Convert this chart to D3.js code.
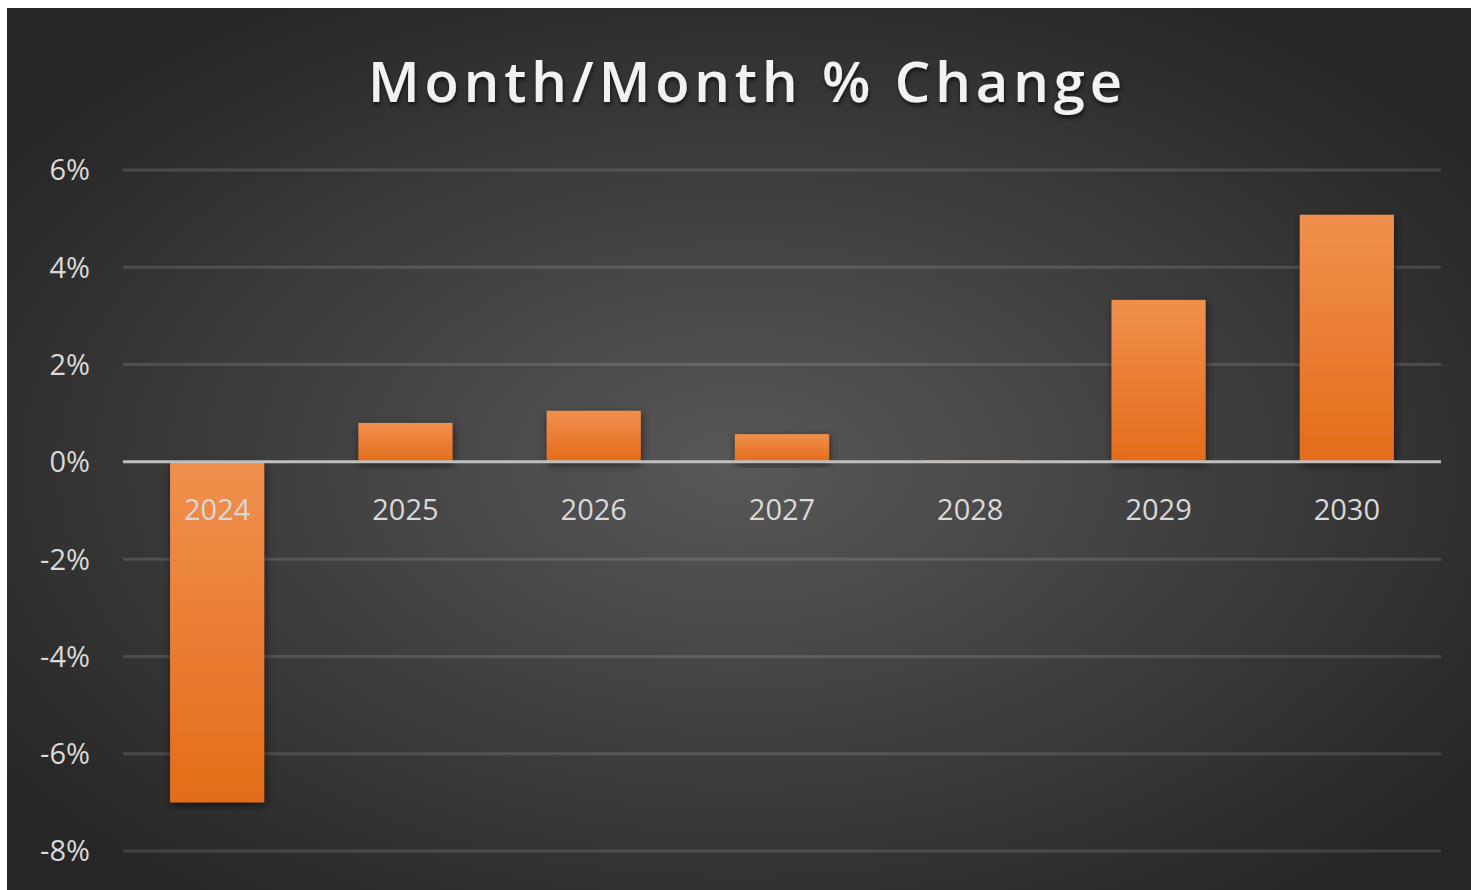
<!DOCTYPE html>
<html>
<head>
<meta charset="utf-8">
<script src="https://cdn.jsdelivr.net/npm/d3@7"></script>
<style>
  html, body { margin: 0; padding: 0; background: #fff; }
  svg { display: block; }
</style>
</head>
<body>
<svg id="chart"></svg>
<script>
const years = ["2024", "2025", "2026", "2027", "2028", "2029", "2030"];
const changes = [-7.0, 0.8, 1.05, 0.57, 0.03, 3.33, 5.08];
const yTicks = [6, 4, 2, 0, -2, -4, -6, -8];
const title = "Month/Month % Change";

const W = 1471, H = 890;
const svg = d3.select("#chart").attr("width", W).attr("height", H);
const defs = svg.append("defs");

const bg = defs.append("radialGradient")
    .attr("id", "bg")
    .attr("cx", "50%").attr("cy", "52%").attr("r", "62%");
bg.append("stop").attr("offset", "0%").attr("stop-color", "#585858");
bg.append("stop").attr("offset", "100%").attr("stop-color", "#262626");

const barGrad = defs.append("linearGradient")
    .attr("id", "bar")
    .attr("x1", 0).attr("y1", 0).attr("x2", 0).attr("y2", 1);
barGrad.append("stop").attr("offset", "0%").attr("stop-color", "#f0904e");
barGrad.append("stop").attr("offset", "100%").attr("stop-color", "#e46c1a");

const shadow = defs.append("filter").attr("id", "shadow")
    .attr("x", "-20%").attr("y", "-20%").attr("width", "140%").attr("height", "140%");
shadow.append("feDropShadow")
    .attr("dx", 1).attr("dy", 3).attr("stdDeviation", 4)
    .attr("flood-color", "#000").attr("flood-opacity", 0.55);

const titleShadow = defs.append("filter").attr("id", "tshadow")
    .attr("x", "-10%").attr("y", "-30%").attr("width", "120%").attr("height", "160%");
titleShadow.append("feDropShadow")
    .attr("dx", 1).attr("dy", 3).attr("stdDeviation", 2)
    .attr("flood-color", "#000").attr("flood-opacity", 0.6);

svg.append("rect")
    .attr("x", 7).attr("y", 8)
    .attr("width", W - 7).attr("height", H - 8)
    .attr("fill", "url(#bg)");

const left = 123, right = 1441;

const x = d3.scaleBand()
    .domain(years)
    .range([left, right])
    .paddingInner(0.5)
    .paddingOuter(0.25);

const y = d3.scaleLinear()
    .domain([-8, 6])
    .range([851, 170]);

// gridlines
svg.append("g")
  .selectAll("line")
  .data(yTicks.filter(d => d !== 0))
  .join("line")
    .attr("x1", left).attr("x2", right)
    .attr("y1", d => y(d)).attr("y2", d => y(d))
    .attr("stroke", "rgba(255,255,255,0.13)")
    .attr("stroke-width", 3);

// y labels
svg.append("g")
  .selectAll("text")
  .data(yTicks)
  .join("text")
    .attr("x", 90)
    .attr("y", d => y(d))
    .attr("dy", "0.36em")
    .attr("text-anchor", "end")
    .attr("fill", "#d9d9d9")
    .style("font-family", "'Open Sans', sans-serif")
    .style("font-size", "29px")
    .text(d => d + "%");

// bars
svg.append("g")
  .selectAll("rect")
  .data(changes)
  .join("rect")
    .attr("x", (d, i) => x(years[i]))
    .attr("width", x.bandwidth())
    .attr("y", d => y(Math.max(0, d)))
    .attr("height", d => Math.max(1, Math.abs(y(d) - y(0))))
    .attr("fill", "url(#bar)")
    .attr("filter", "url(#shadow)");

// zero line
svg.append("line")
    .attr("x1", left).attr("x2", right)
    .attr("y1", y(0)).attr("y2", y(0))
    .attr("stroke", "#bfbfbf")
    .attr("stroke-width", 3);

// category labels
svg.append("g")
  .selectAll("text")
  .data(years)
  .join("text")
    .attr("x", d => x(d) + x.bandwidth() / 2)
    .attr("y", y(0) + 48)
    .attr("dy", "0.36em")
    .attr("text-anchor", "middle")
    .attr("fill", "#d9d9d9")
    .style("font-family", "'Open Sans', sans-serif")
    .style("font-size", "29px")
    .text(d => d);

// title
svg.append("text")
    .attr("x", 745)
    .attr("y", 102)
    .attr("text-anchor", "middle")
    .attr("fill", "#f2f2f2")
    .attr("filter", "url(#tshadow)")
    .attr("textLength", 754)
    .attr("lengthAdjust", "spacing")
    .style("font-family", "'Open Sans', sans-serif")
    .style("font-weight", 600)
    .style("font-size", "56px")
    .text(title);
</script>
</body>
</html>
